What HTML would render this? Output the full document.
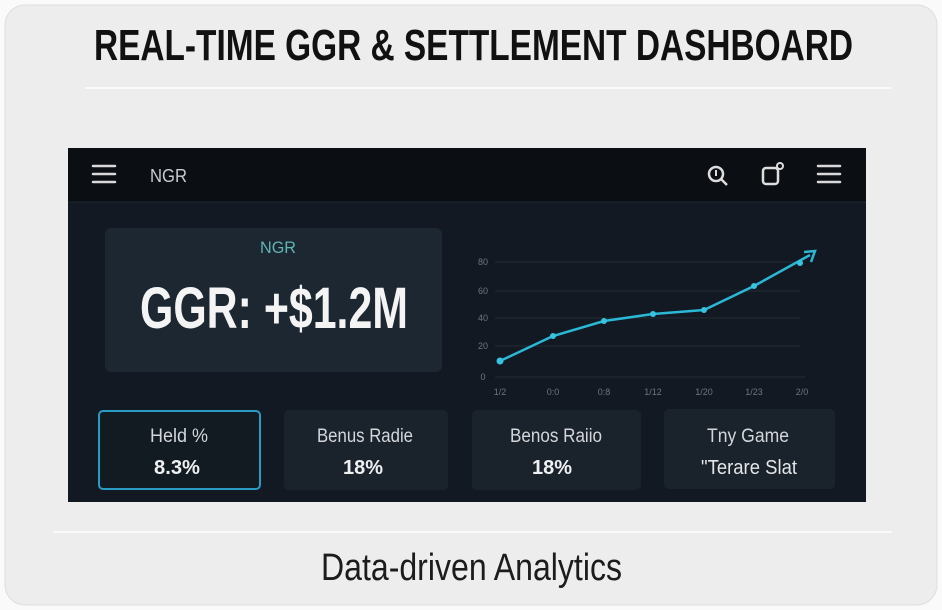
<!DOCTYPE html>
<html><head><meta charset="utf-8"><style>
html,body{margin:0;padding:0;background:#fff;}
svg{display:block;}
</style></head><body>
<svg width="942" height="610" viewBox="0 0 942 610" xmlns="http://www.w3.org/2000/svg" font-family="Liberation Sans, sans-serif">
<defs>
<linearGradient id="dash" x1="0" y1="0" x2="1" y2="1">
<stop offset="0" stop-color="#17202a"/><stop offset="1" stop-color="#0f151d"/>
</linearGradient>
</defs>
<rect x="0" y="0" width="942" height="610" fill="#fafafa"/>
<rect x="5" y="5" width="932" height="600" rx="20" fill="#ededed" stroke="#dedede"/>
<text x="94" y="60" font-size="44" font-weight="bold" fill="#111" textLength="759" lengthAdjust="spacingAndGlyphs">REAL-TIME GGR &amp; SETTLEMENT DASHBOARD</text>
<line x1="85" y1="88" x2="892" y2="88" stroke="#fafafa" stroke-width="2"/>
<!-- dashboard -->
<rect x="68" y="148" width="798" height="354" fill="#121922"/>
<rect x="68" y="148" width="798" height="54" fill="#0b0e13"/>
<line x1="68" y1="202" x2="866" y2="202" stroke="#1e2630"/>
<g stroke="#d8d8d8" stroke-width="2.5" stroke-linecap="round">
<line x1="93" y1="166" x2="115" y2="166"/><line x1="93" y1="174" x2="115" y2="174"/><line x1="93" y1="182" x2="115" y2="182"/>
<line x1="818" y1="166" x2="840" y2="166"/><line x1="818" y1="174" x2="840" y2="174"/><line x1="818" y1="182" x2="840" y2="182"/>
</g>
<text x="150" y="182" font-size="18" fill="#c8ccd0" textLength="37" lengthAdjust="spacingAndGlyphs">NGR</text>
<circle cx="716" cy="174" r="7" fill="none" stroke="#ddd" stroke-width="2.5"/>
<line x1="721" y1="179" x2="727" y2="185" stroke="#ddd" stroke-width="2.5"/>
<line x1="716" y1="170" x2="716" y2="176" stroke="#ddd" stroke-width="2"/>
<rect x="763" y="168" width="15" height="16" rx="3" fill="none" stroke="#ddd" stroke-width="2.5"/>
<circle cx="780" cy="166" r="3" fill="#0b0e13" stroke="#ddd" stroke-width="2"/>
<!-- GGR box -->
<rect x="105" y="228" width="337" height="144" rx="6" fill="#1c2731"/>
<text x="278" y="253" font-size="17" fill="#5fb4b4" text-anchor="middle" textLength="36" lengthAdjust="spacingAndGlyphs">NGR</text>
<text x="140" y="328" font-size="58" font-weight="bold" fill="#f4f4f4" textLength="268" lengthAdjust="spacingAndGlyphs">GGR: +$1.2M</text>
<!-- chart -->
<g stroke="#232c36" stroke-width="1">
<line x1="495" y1="262" x2="800" y2="262"/><line x1="495" y1="291" x2="800" y2="291"/>
<line x1="495" y1="318" x2="800" y2="318"/><line x1="495" y1="346" x2="800" y2="346"/>
<line x1="495" y1="377" x2="805" y2="377"/>
</g>
<g font-size="9" fill="#6c7580" text-anchor="middle">
<text x="483" y="265">80</text><text x="483" y="294">60</text><text x="483" y="321">40</text><text x="483" y="349">20</text><text x="483" y="380">0</text>
<text x="500" y="395">1/2</text><text x="553" y="395">0:0</text><text x="604" y="395">0:8</text><text x="653" y="395">1/12</text><text x="704" y="395">1/20</text><text x="754" y="395">1/23</text><text x="802" y="395">2/0</text>
</g>
<polyline points="500,361 553,336 604,321 653,314 704,310 754,286 810,255" fill="none" stroke="#2bb7d6" stroke-width="2.5"/>
<polyline points="804,252 815,251 811,262" fill="none" stroke="#2bb7d6" stroke-width="2.5"/>
<g fill="#35c3e0">
<circle cx="500" cy="361" r="3.5"/><circle cx="553" cy="336" r="3"/><circle cx="604" cy="321" r="3"/><circle cx="653" cy="314" r="3"/><circle cx="704" cy="310" r="3"/><circle cx="754" cy="286" r="3"/><circle cx="800" cy="263" r="3"/>
</g>
<!-- cards -->
<rect x="99" y="411" width="161" height="78" rx="4" fill="#121a22" stroke="#2a9cc4" stroke-width="2"/>
<rect x="284" y="410" width="164" height="80" rx="5" fill="#1a222b"/>
<rect x="472" y="410" width="169" height="80" rx="5" fill="#1a222b"/>
<rect x="664" y="409" width="171" height="80" rx="5" fill="#1a222b"/>
<g font-size="19" fill="#d4d7da" text-anchor="middle">
<text x="179" y="442" textLength="58" lengthAdjust="spacingAndGlyphs">Held %</text>
<text x="365" y="442" textLength="96" lengthAdjust="spacingAndGlyphs">Benus Radie</text>
<text x="556" y="442" textLength="92" lengthAdjust="spacingAndGlyphs">Benos Raiio</text>
<text x="748" y="442" textLength="82" lengthAdjust="spacingAndGlyphs">Tny Game</text>
</g>
<g font-size="20" fill="#eef0f2" text-anchor="middle" font-weight="bold">
<text x="177" y="474" textLength="46" lengthAdjust="spacingAndGlyphs">8.3%</text>
<text x="363" y="474" textLength="40" lengthAdjust="spacingAndGlyphs">18%</text>
<text x="552" y="474" textLength="40" lengthAdjust="spacingAndGlyphs">18%</text>
</g>
<text x="749" y="474" font-size="20" fill="#e4e6e8" text-anchor="middle" textLength="96" lengthAdjust="spacingAndGlyphs">"Terare Slat</text>
<line x1="53" y1="532" x2="892" y2="532" stroke="#fafafa" stroke-width="2"/>
<text x="321" y="580" font-size="38" fill="#1c1c1c" textLength="301" lengthAdjust="spacingAndGlyphs">Data-driven Analytics</text>
</svg>
</body></html>
